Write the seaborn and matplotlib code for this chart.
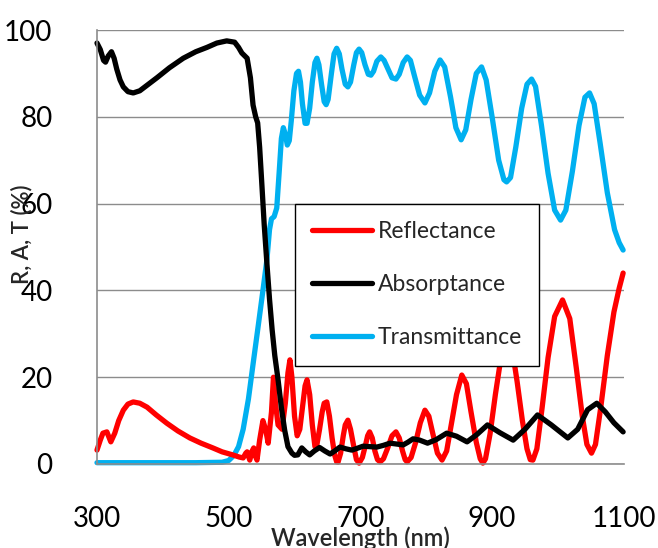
import numpy as np
import pandas as pd
import matplotlib
matplotlib.use("Agg")
import matplotlib.pyplot as plt
import seaborn as sns

# ---- data ----
wl_T = [300, 350, 400, 450, 490, 500, 508, 515, 522, 530, 537, 545, 552, 558, 562, 565, 569, 573, 577, 580,
        583, 586, 589, 592, 595, 599, 603, 606, 609, 612, 616, 619, 623, 627, 631, 634, 637, 641, 645, 648,
        651, 656, 660, 664, 668, 672, 677, 681, 685, 690, 694, 698, 702, 707, 712, 716, 720, 725, 731, 736,
        742, 748, 754, 759, 765, 771, 776, 782, 790, 798, 805, 813, 821, 828, 837, 845, 853, 860, 868, 876,
        884, 891, 900, 910, 918, 922, 928, 936, 945, 953, 960, 966, 975, 985, 995, 1004, 1012, 1022, 1032, 1041,
        1048, 1055, 1064, 1075, 1086, 1093, 1099]
transmittance = [0.3, 0.3, 0.3, 0.3, 0.4, 0.8, 2, 4, 8, 15, 23, 32, 40, 47, 54, 56.5, 57, 59, 68, 75,
                 77.5, 76, 73.5, 74.5, 79, 86, 90, 90.5, 88, 83, 78.5, 78.5, 82, 88, 92.5, 93.5, 92, 87.5, 83.5, 82.8,
                 84, 90, 94.5, 95.8, 94.5, 91, 87.5, 86.9, 88, 92, 94.8, 95.6, 94.8, 92, 89.8, 89.6, 90.5, 92.8, 93.8, 93,
                 91, 89, 88.7, 89.8, 92.5, 93.8, 93, 89.5, 85, 83.2, 85.5, 90.5, 93.1, 91.5, 84.5, 77.5, 74.7, 77, 84, 90,
                 91.5, 88.5, 80, 70, 65.5, 65, 66, 73, 82, 87.5, 88.7, 87, 78, 67, 58.5, 56.2, 58.5, 67.5, 78, 84.5,
                 85.5, 83, 74, 62.5, 54, 51, 49.3]

wl_A = [300, 305, 310, 313, 317, 322, 326, 330, 335, 340, 347, 355, 365, 378, 391, 410, 431, 450, 467, 482,
        497, 509, 515, 520, 528, 533, 537, 541, 544, 547, 550, 554, 558, 562, 566, 570, 575, 580, 585, 590,
        596, 600, 605, 611, 617, 623, 630, 638, 646, 654, 661, 669, 678, 687, 695, 704, 714, 725, 735, 745,
        755, 765, 772, 780, 790, 802, 815, 831, 846, 862, 877, 893, 912, 932, 950, 969, 990, 1015, 1030, 1045,
        1059, 1072, 1085, 1099]
absorptance = [97, 95.5, 93, 92.6, 94, 95, 93.5, 91, 88.5, 86.9, 85.8, 85.5, 86, 87.5, 89, 91.3, 93.5, 95, 96, 97,
               97.5, 97.2, 96, 94.7, 93.5, 89, 82.7, 80, 78.6, 73, 65.4, 55, 46.3, 38, 30.9, 25, 19.4, 13, 7.8, 4,
               2.5, 2, 2.1, 3.7, 2.8, 2.1, 3, 3.8, 3, 2.3, 3, 3.9, 3.5, 3.2, 3.6, 4.1, 4, 3.9, 4.3, 4.8,
               4.6, 4.4, 5, 5.8, 5.5, 4.8, 5.6, 7.1, 6.4, 5.1, 6.8, 9, 7.2, 5.5, 8, 11.3, 9, 6, 8, 12.5,
               14, 12, 9.5, 7.4]

wl_R = [300, 305, 309, 315, 321, 327, 333, 340, 347, 355, 365, 376, 390, 406, 423, 441, 458, 476, 490, 506,
        516, 522, 526, 528, 530, 532, 535, 538, 540, 543, 547, 552, 556, 560, 565, 568, 571, 575, 581, 586,
        590, 593, 596, 600, 604, 608, 612, 616, 619, 623, 627, 631, 634, 638, 642, 645, 649, 653, 657, 661,
        664, 666, 670, 674, 677, 681, 685, 690, 694, 698, 703, 708, 711, 714, 718, 722, 726, 730, 735, 741,
        748, 754, 759, 764, 768, 771, 777, 784, 791, 798, 804, 810, 817, 824, 831, 838, 846, 854, 861, 868,
        876, 882, 886, 890, 897, 905, 914, 922, 930, 938, 946, 953, 958, 962, 968, 976, 985, 995, 1007, 1018,
        1028, 1037, 1044, 1051, 1057, 1065, 1075, 1085, 1093, 1099]
reflectance = [3.2, 5.5, 7.1, 7.4, 5.1, 7.1, 10, 12.4, 13.8, 14.3, 14, 13.1, 11.3, 9.4, 7.6, 6, 4.8, 3.7, 2.8, 2.1,
               1.6, 1.4, 2.5, 2.8, 1.8, 0.9, 2.8, 3.7, 2, 0.9, 5.5, 10, 8, 4.8, 12, 20, 14, 9, 8, 14,
               21, 24, 20, 11, 6.5, 8, 13, 18, 19.4, 16, 9, 4, 4.5, 8, 12, 14, 14.3, 11, 6, 2,
               0.5, 0.4, 2.5, 6.5, 9, 10.1, 8, 4, 1, 0.2, 1.5, 4.5, 6.5, 7.4, 6, 3, 1, 0.5, 1.2, 3.5,
               6.5, 7.4, 6, 3, 1, 0.5, 1.5, 5, 9.5, 12.4, 11, 7, 2.5, 0.9, 3, 9, 16, 20.5, 18.5, 12,
               5, 1.2, 0.2, 1.2, 7, 16, 25, 29.5, 27, 19, 10, 3.5, 1, 0.9, 3.5, 13, 24.5, 34, 37.8, 33.5,
               22, 11, 4.5, 2.5, 4.5, 13, 25, 35, 40.5, 44]

x_ticks = [300, 500, 700, 900, 1100]
y_ticks = [0, 20, 40, 60, 80, 100]
labels = ["Reflectance", "Absorptance", "Transmittance"]
colors = {"Reflectance": "#ff0000", "Absorptance": "#000000", "Transmittance": "#00b0f0"}

sns.set_style("white")
plt.rcParams["font.family"] = ["Lato", "DejaVu Sans"]

fig = plt.figure(figsize=(6.58, 5.48), dpi=100)
ax = fig.add_axes([0.1474, 0.1533, 0.8006, 0.7919])

lw = 3.8
sns.lineplot(x=wl_T, y=transmittance, ax=ax, color=colors["Transmittance"], lw=lw,
             label="Transmittance", clip_on=False, solid_capstyle="round", solid_joinstyle="round")
sns.lineplot(x=wl_R, y=reflectance, ax=ax, color=colors["Reflectance"], lw=lw,
             label="Reflectance", clip_on=False, solid_capstyle="round", solid_joinstyle="round")
sns.lineplot(x=wl_A, y=absorptance, ax=ax, color=colors["Absorptance"], lw=lw,
             label="Absorptance", clip_on=False, solid_capstyle="round", solid_joinstyle="round")

ax.set_xlim(300, 1100)
ax.set_ylim(0, 100)
ax.set_xticks(x_ticks)
ax.set_yticks(y_ticks)
ax.tick_params(axis="both", length=0, labelsize=20, colors="#000000")
ax.tick_params(axis="y", pad=32)
ax.tick_params(axis="x", pad=30)

ax.yaxis.grid(True, color="#8c8c8c", lw=1.0)
ax.xaxis.grid(False)
ax.set_axisbelow(True)
for s in ["right", "top"]:
    ax.spines[s].set_visible(False)
for s in ["left", "bottom"]:
    ax.spines[s].set_color("#8c8c8c")
    ax.spines[s].set_linewidth(1.2)

ax.set_xlabel("Wavelength (nm)", fontsize=17, fontweight="semibold")
ax.set_ylabel("R, A, T (%)", fontsize=16, fontweight="semibold")
ax.xaxis.set_label_coords(0.5, -0.143)
ax.yaxis.set_label_coords(-0.122, 0.53)

handles, labs = ax.get_legend_handles_labels()
order = [labs.index(l) for l in labels]
leg = ax.legend([handles[i] for i in order], [labs[i] for i in order],
                loc="upper left", bbox_to_anchor=(0.376, 0.599), borderaxespad=0,
                fontsize=16.5, frameon=True, fancybox=False, framealpha=1,
                edgecolor="#000000", handlelength=2.6, handletextpad=0.25,
                labelspacing=1.4, borderpad=0.75)
leg.get_frame().set_linewidth(1.0)
leg.set_zorder(5)

fig.savefig("out.png", dpi=100)
